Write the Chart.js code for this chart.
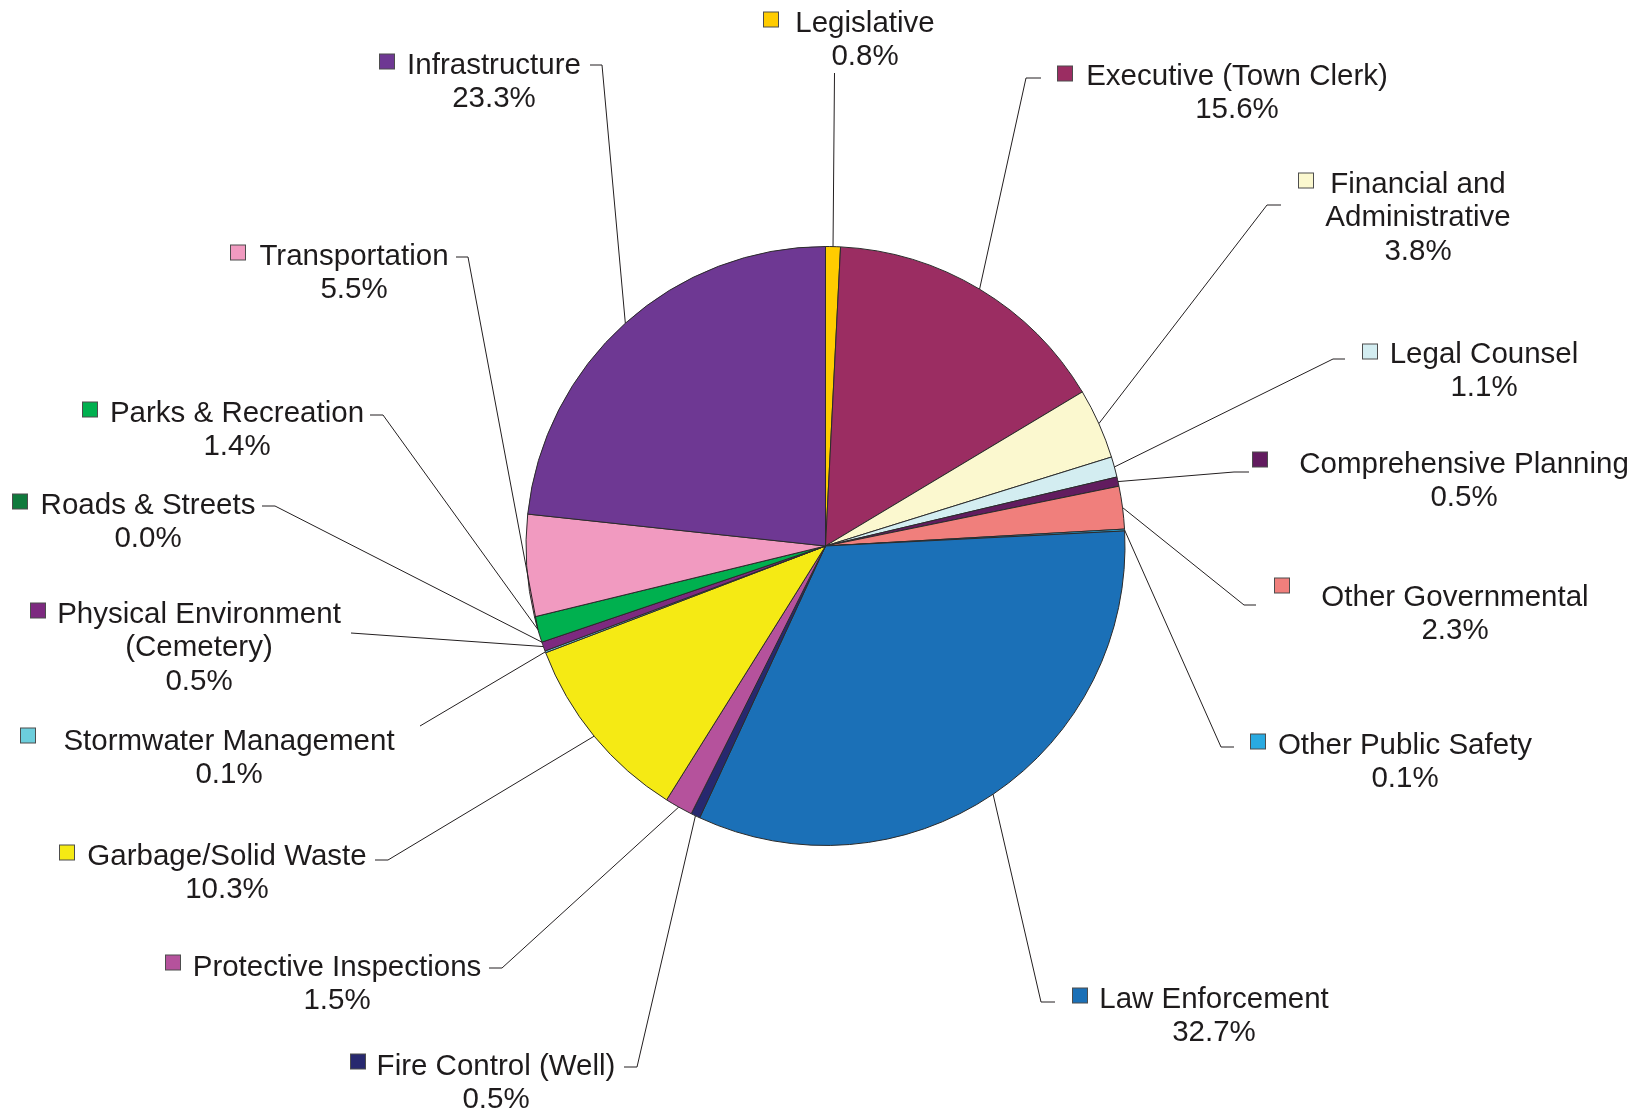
<!DOCTYPE html>
<html>
<head>
<meta charset="utf-8">
<title>Expenditures by Function</title>
<script src="https://cdn.jsdelivr.net/npm/chart.js@4.4.1/dist/chart.umd.min.js"></script>
<style>
  html, body { margin: 0; padding: 0; background: #ffffff; }
  canvas { display: block; }
</style>
</head>
<body>
<canvas id="pieChart" width="1646" height="1112"></canvas>
<script>
/*chart values, clockwise from 12 o'clock*/
const categories = [
  ['Legislative'],
  ['Executive (Town Clerk)'],
  ['Financial and', 'Administrative'],
  ['Legal Counsel'],
  ['Comprehensive Planning'],
  ['Other Governmental'],
  ['Other Public Safety'],
  ['Law Enforcement'],
  ['Fire Control (Well)'],
  ['Protective Inspections'],
  ['Garbage/Solid Waste'],
  ['Stormwater Management'],
  ['Physical Environment', '(Cemetery)'],
  ['Roads & Streets'],
  ['Parks & Recreation'],
  ['Transportation'],
  ['Infrastructure'],
];
const shares = [0.8, 15.6, 3.8, 1.1, 0.5, 2.3, 0.1, 32.7, 0.5, 1.5, 10.3, 0.1, 0.5, 0.0, 1.4, 5.5, 23.3];

const sliceColors = [
  '#ffcc00', '#9b2d62', '#fbf8cf', '#d3edf1', '#621c5f', '#f07f7c',
  '#29aae1', '#1b70b7', '#27286f', '#b5529c', '#f5ea14', '#6ccedc',
  '#7d2a80', '#0f7a3c', '#00b04f', '#f19ac0', '#6e3893'
];

/*where each label sits: key square, text centre, leader elbow and end*/
const labelLayout = [
  { sq: [771, 19],    cx: 865,  y: 21,   elbow: [834.5, 73] },
  { sq: [1065, 73],   cx: 1237, y: 74,   elbow: [1026, 78],  end: [1041, 78] },
  { sq: [1306, 180],  cx: 1418, y: 182,  elbow: [1267, 205], end: [1281, 205] },
  { sq: [1370, 351],  cx: 1484, y: 352,  elbow: [1333, 359], end: [1345, 359] },
  { sq: [1260, 459],  cx: 1464, y: 462,  elbow: [1234, 472], end: [1249, 472] },
  { sq: [1282, 585],  cx: 1455, y: 595,  elbow: [1244, 605], end: [1256, 605] },
  { sq: [1258, 741],  cx: 1405, y: 743,  elbow: [1221, 747], end: [1234, 747] },
  { sq: [1080, 995],  cx: 1214, y: 997,  elbow: [1041, 1002], end: [1055, 1002] },
  { sq: [358, 1061],  cx: 496,  y: 1064, elbow: [637, 1067], end: [624, 1067] },
  { sq: [173, 962],   cx: 337,  y: 965,  elbow: [502, 968], end: [489, 968] },
  { sq: [67, 852],    cx: 227,  y: 854,  elbow: [388, 860], end: [375, 860] },
  { sq: [28, 735],    cx: 229,  y: 739,  elbow: [420, 726] },
  { sq: [38, 610],    cx: 199,  y: 612,  elbow: [351, 633] },
  { sq: [20, 501],    cx: 148,  y: 503,  elbow: [275, 506], end: [262, 506] },
  { sq: [90, 409],    cx: 237,  y: 411,  elbow: [383, 415], end: [370, 415] },
  { sq: [238, 252],   cx: 354,  y: 254,  elbow: [468, 257], end: [456, 257], tipSlice: 14 },
  { sq: [387, 61],    cx: 494,  y: 63,   elbow: [602, 65], end: [590, 65] },
];

const total = shares.reduce((a, b) => a + b, 0);

/*labels with key squares and leader lines*/
const calloutLabels = {
  id: 'calloutLabels',
  afterDatasetsDraw(chart) {
    const ctx = chart.ctx;
    const arcs = chart.getDatasetMeta(0).data;
    ctx.save();
    ctx.strokeStyle = '#231f20';
    ctx.lineWidth = 1;
    labelLayout.forEach((lay, i) => {
      const arc = arcs[lay.tipSlice !== undefined ? lay.tipSlice : i];
      const p = arc.getProps(['x', 'y', 'startAngle', 'endAngle', 'outerRadius'], true);
      const mid = (p.startAngle + p.endAngle) / 2;
      const tx = p.x + p.outerRadius * Math.cos(mid);
      const ty = p.y + p.outerRadius * Math.sin(mid);
      ctx.beginPath();
      ctx.moveTo(tx, ty);
      ctx.lineTo(lay.elbow[0], lay.elbow[1]);
      if (lay.end) ctx.lineTo(lay.end[0], lay.end[1]);
      ctx.stroke();
    });

    ctx.font = '29.5px "Liberation Sans", Arial, sans-serif';
    ctx.textAlign = 'center';
    ctx.textBaseline = 'middle';
    labelLayout.forEach((lay, i) => {
      const lines = categories[i].concat([(shares[i] / total * 100).toFixed(1) + '%']);
      ctx.fillStyle = '#1e1b1c';
      lines.forEach((t, k) => ctx.fillText(t, lay.cx, lay.y + 2.5 + k * 33.5));
      ctx.fillStyle = sliceColors[i];
      ctx.fillRect(lay.sq[0] - 7.5, lay.sq[1] - 7, 15, 15);
      ctx.strokeStyle = '#4d4d4d';
      ctx.strokeRect(lay.sq[0] - 7.5, lay.sq[1] - 7, 15, 15);
    });
    ctx.restore();
  }
};

const pieData = {
  labels: categories.map(c => c.join(' ')),
  datasets: [{
    data: shares,
    backgroundColor: sliceColors,
    borderColor: '#2b2b2b',
    borderWidth: 1,
  }]
};

const pieConfig = {
  type: 'pie',
  data: pieData,
  options: {
    responsive: false,
    animation: false,
    layout: {
      padding: { left: 525, right: 520, top: 246, bottom: 266 }
    },
    plugins: {
      legend: { display: false },
      tooltip: { enabled: false }
    }
  },
  plugins: [calloutLabels]
};

var myPieChart = new Chart(
  document.getElementById('pieChart'),
  pieConfig
);
</script>
</body>
</html>
